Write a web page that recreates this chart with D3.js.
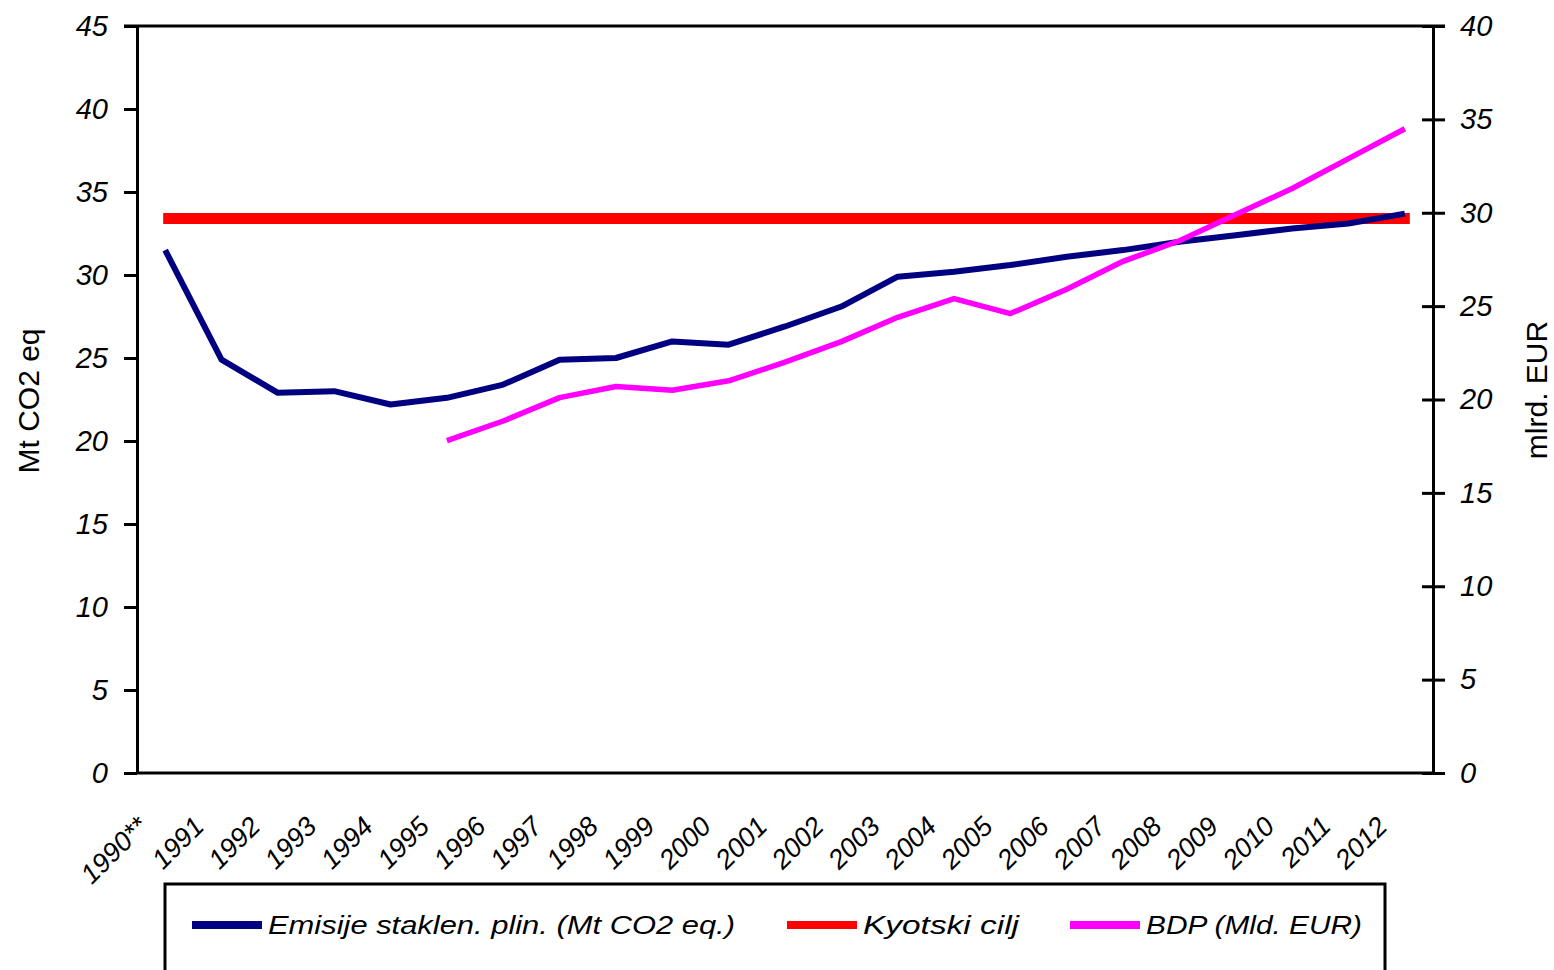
<!DOCTYPE html>
<html>
<head>
<meta charset="utf-8">
<script src="https://cdn.jsdelivr.net/npm/d3@7"></script>
<style>
body { margin: 0; background: #fff; }
text { font-family: "Liberation Sans", Arial, sans-serif; }
</style>
</head>
<body>
<div id="chart"></div>
<script>
var godine = ["1990**", "1991", "1992", "1993", "1994", "1995", "1996", "1997", "1998", "1999", "2000",
	"2001", "2002", "2003", "2004", "2005", "2006", "2007", "2008", "2009", "2010", "2011", "2012"];
var emisije = [31.5, 24.9, 22.9, 23.0, 22.2, 22.6, 23.4, 24.9, 25.0, 26.0, 25.8,
	26.9, 28.1, 29.9, 30.2, 30.6, 31.1, 31.5, 32.0, 32.4, 32.8, 33.1, 33.7];
var kyoto = 33.4;
var godineBdp = ["1995", "1996", "1997", "1998", "1999", "2000", "2001", "2002", "2003", "2004",
	"2005", "2006", "2007", "2008", "2009", "2010", "2011", "2012"];
var bdp = [17.8, 18.85, 20.1, 20.7, 20.5, 21.0, 22.0, 23.1, 24.4, 25.4,
	24.6, 25.9, 27.4, 28.5, 29.9, 31.3, 32.9, 34.5];
var ticksLijevo = [0, 5, 10, 15, 20, 25, 30, 35, 40, 45];
var ticksDesno = [0, 5, 10, 15, 20, 25, 30, 35, 40];
var legenda = [
	{ naziv: "Emisije staklen. plin. (Mt CO2 eq.)", boja: "#000080", x: 192, sirina: 467 },
	{ naziv: "Kyotski cilj", boja: "#ff0000", x: 787, sirina: 156 },
	{ naziv: "BDP (Mld. EUR)", boja: "#ff00ff", x: 1070, sirina: 216 }
];

var w = 1554, h = 970;
var lijevo = 137, desno = 1433, vrh = 26, dno = 773;

var svg = d3.select("#chart").append("svg")
	.attr("width", w)
	.attr("height", h);

var x = d3.scaleBand().domain(godine).range([lijevo, desno]);
var yL = d3.scaleLinear().domain([0, 45]).range([dno, vrh]);
var yR = d3.scaleLinear().domain([0, 40]).range([dno, vrh]);

// okvir grafa
svg.append("line").attr("x1", lijevo - 13).attr("x2", desno + 12)
	.attr("y1", vrh).attr("y2", vrh).attr("stroke", "#000").attr("stroke-width", 3);
svg.append("line").attr("x1", lijevo).attr("x2", desno)
	.attr("y1", dno).attr("y2", dno).attr("stroke", "#000").attr("stroke-width", 3);

var osL = svg.append("g")
	.attr("transform", "translate(" + lijevo + ",0)")
	.call(d3.axisLeft(yL).tickValues(ticksLijevo).tickSize(13).tickSizeOuter(0).tickPadding(16));
var osD = svg.append("g")
	.attr("transform", "translate(" + desno + ",0)")
	.call(d3.axisRight(yR).tickValues(ticksDesno).tickSize(12).tickSizeOuter(0).tickPadding(15));
osD.selectAll(".tick line").attr("x1", -11);

[osL, osD].forEach(function (os) {
	os.select(".domain").attr("stroke-width", 3);
	os.selectAll(".tick line").attr("stroke-width", 3);
	os.selectAll(".tick text")
		.style("font-size", "29px")
		.style("font-style", "italic")
		.attr("fill", "#000");
});

// oznake godina
svg.selectAll("text.godina")
	.data(godine)
	.enter()
	.append("text")
	.attr("class", "godina")
	.attr("transform", function (d) {
		return "translate(" + (x(d) + x.bandwidth() / 2 - 16) + "," + 828 + ") rotate(-45)";
	})
	.attr("text-anchor", "end")
	.style("font-size", "27px")
	.style("font-style", "italic")
	.text(function (d) { return d; });

// naslovi osi
svg.append("text")
	.attr("transform", "translate(39,401) rotate(-90)")
	.attr("text-anchor", "middle")
	.style("font-size", "30px")
	.text("Mt CO2 eq");
svg.append("text")
	.attr("transform", "translate(1547,390) rotate(-90)")
	.attr("text-anchor", "middle")
	.style("font-size", "30px")
	.text("mlrd. EUR");

var sredina = function (d) { return x(d) + x.bandwidth() / 2; };

// Kyotski cilj
svg.append("line")
	.attr("x1", sredina(godine[0]) - 2)
	.attr("x2", sredina(godine[godine.length - 1]) + 5)
	.attr("y1", yL(kyoto)).attr("y2", yL(kyoto))
	.attr("stroke", "#ff0000").attr("stroke-width", 11);

// emisije
svg.append("path")
	.datum(emisije)
	.attr("fill", "none")
	.attr("stroke", "#000080")
	.attr("stroke-width", 6)
	.attr("stroke-linejoin", "round")
	.attr("d", d3.line()
		.x(function (d, i) { return sredina(godine[i]); })
		.y(function (d) { return yL(d); }));

// BDP
svg.append("path")
	.datum(bdp)
	.attr("fill", "none")
	.attr("stroke", "#ff00ff")
	.attr("stroke-width", 5.5)
	.attr("stroke-linejoin", "round")
	.attr("d", d3.line()
		.x(function (d, i) { return sredina(godineBdp[i]); })
		.y(function (d) { return yR(d); }));

// legenda
svg.append("rect")
	.attr("x", 165).attr("y", 884)
	.attr("width", 1220).attr("height", 110)
	.attr("fill", "none").attr("stroke", "#000").attr("stroke-width", 3);

var stavke = svg.selectAll("g.stavka")
	.data(legenda)
	.enter()
	.append("g")
	.attr("class", "stavka")
	.attr("transform", function (d) { return "translate(" + d.x + ",925)"; });
stavke.append("line")
	.attr("x1", 0).attr("x2", 70)
	.attr("stroke", function (d) { return d.boja; })
	.attr("stroke-width", 8);
stavke.append("text")
	.attr("x", 76)
	.attr("dy", "0.36em")
	.attr("textLength", function (d) { return d.sirina; })
	.attr("lengthAdjust", "spacingAndGlyphs")
	.style("font-size", "26px")
	.style("font-style", "italic")
	.text(function (d) { return d.naziv; });
</script>
</body>
</html>
